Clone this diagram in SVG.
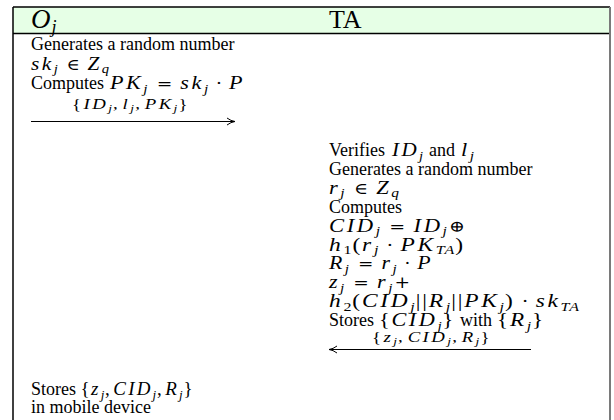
<svg xmlns="http://www.w3.org/2000/svg" width="614" height="420" viewBox="0 0 614 420">
<style>
text{font-family:"Liberation Serif","Times New Roman",serif;font-size:18px;fill:#000}
.m{font-style:italic;font-size:19px;letter-spacing:2.2px}
.s{font-style:italic;font-size:13px;letter-spacing:0.8px}
.n{font-size:13px;letter-spacing:0.8px}
.o{font-family:"DejaVu Serif","DejaVu Sans",serif;font-size:16px}
.p{font-size:19px;letter-spacing:1.5px}
.lb{font-size:15.5px;font-style:italic;letter-spacing:2px}
.ls{font-size:11px;font-style:italic;letter-spacing:1px}
.lp{font-size:15.5px;font-style:normal;letter-spacing:2px}
.h{font-size:26px}
.ar{stroke:#000;stroke-width:1;fill:none}
</style>
<defs>
<marker id="ah" viewBox="0 0 10 10" refX="9" refY="5" markerWidth="10" markerHeight="10" markerUnits="userSpaceOnUse" orient="auto-start-reverse">
<path d="M1,1.5 Q5,4.5 9,5 Q5,5.5 1,8.5" fill="none" stroke="#000" stroke-width="1"/>
</marker>
</defs>
<rect x="0" y="0" width="614" height="420" fill="#fff"/>
<g id="frame">
<rect x="13" y="7" width="597" height="27" fill="#e6ffe6"/>
<line x1="13" y1="7" x2="610" y2="7" stroke="#000" stroke-width="1.5"/>
<line x1="13" y1="33.5" x2="610" y2="33.5" stroke="#000" stroke-width="1.5"/>
<line x1="13" y1="7" x2="13" y2="420" stroke="#000" stroke-width="1.5"/>
<line x1="610" y1="7" x2="610" y2="420" stroke="#7a7a7a" stroke-width="2"/>
</g>
<g id="oj">
<text x="31" y="27.5" class="h"><tspan font-style="italic" font-size="27px">O</tspan><tspan font-style="italic" font-size="18px" dx="1" dy="5">j</tspan></text>
<text x="31" y="50">Generates a random number</text>
<text x="31" y="69.5" textLength="79" lengthAdjust="spacingAndGlyphs"><tspan class="m">sk</tspan><tspan class="s" dy="3.5">j</tspan><tspan class="o" dy="-3.5" dx="7">∈</tspan><tspan class="m" dx="7">Z</tspan><tspan class="s" dy="3.5">q</tspan></text>
<text x="31" y="89">Computes</text>
<text x="110" y="89" textLength="135" lengthAdjust="spacingAndGlyphs"><tspan class="m">PK</tspan><tspan class="s" dy="3.5">j</tspan><tspan class="o" dy="-3.5" dx="7">=</tspan><tspan class="m" dx="7">sk</tspan><tspan class="s" dy="3.5">j</tspan><tspan class="o" dy="-3.5" dx="6">·</tspan><tspan class="m" dx="6">P</tspan></text>
<text x="31" y="395">Stores</text>
<text x="80.5" y="395" textLength="113.5" lengthAdjust="spacingAndGlyphs"><tspan class="p">{</tspan><tspan class="m">z</tspan><tspan class="s" dy="3.5">j</tspan><tspan class="p" dy="-3.5">,</tspan><tspan class="m" dx="2">CID</tspan><tspan class="s" dy="3.5">j</tspan><tspan class="p" dy="-3.5">,</tspan><tspan class="m" dx="2">R</tspan><tspan class="s" dy="3.5">j</tspan><tspan class="p" dy="-3.5">}</tspan></text>
<text x="31" y="413">in mobile device</text>
</g>
<g id="ta">
<text x="329" y="27.5" class="h">TA</text>
<text x="329" y="156">Verifies</text>
<text x="392" y="156" textLength="32" lengthAdjust="spacingAndGlyphs"><tspan class="m">ID</tspan><tspan class="s" dy="3.5">j</tspan></text>
<text x="429" y="156">and</text>
<text x="461" y="156" textLength="14" lengthAdjust="spacingAndGlyphs"><tspan class="m">l</tspan><tspan class="s" dy="3.5">j</tspan></text>
<text x="329" y="174.9">Generates a random number</text>
<text x="329" y="193.8" textLength="71" lengthAdjust="spacingAndGlyphs"><tspan class="m">r</tspan><tspan class="s" dy="3.5">j</tspan><tspan class="o" dy="-3.5" dx="7">∈</tspan><tspan class="m" dx="7">Z</tspan><tspan class="s" dy="3.5">q</tspan></text>
<text x="329" y="212.7">Computes</text>
<text x="329" y="231.6" textLength="136" lengthAdjust="spacingAndGlyphs"><tspan class="m">CID</tspan><tspan class="s" dy="3.5">j</tspan><tspan class="o" dy="-3.5" dx="7">=</tspan><tspan class="m" dx="7">ID</tspan><tspan class="s" dy="3.5">j</tspan><tspan class="o" dy="-3.5" dx="1">⊕</tspan></text>
<text x="329" y="250.5" textLength="136" lengthAdjust="spacingAndGlyphs"><tspan class="m">h</tspan><tspan class="n" dy="3.5">1</tspan><tspan class="p" dy="-3.5">(</tspan><tspan class="m">r</tspan><tspan class="s" dy="3.5">j</tspan><tspan class="o" dy="-3.5" dx="6">·</tspan><tspan class="m" dx="6">PK</tspan><tspan class="s" dy="3.5">TA</tspan><tspan class="p" dy="-3.5">)</tspan></text>
<text x="329" y="269.4" textLength="104" lengthAdjust="spacingAndGlyphs"><tspan class="m">R</tspan><tspan class="s" dy="3.5">j</tspan><tspan class="o" dy="-3.5" dx="7">=</tspan><tspan class="m" dx="7">r</tspan><tspan class="s" dy="3.5">j</tspan><tspan class="o" dy="-3.5" dx="6">·</tspan><tspan class="m" dx="6">P</tspan></text>
<text x="329" y="288.3" textLength="81" lengthAdjust="spacingAndGlyphs"><tspan class="m">z</tspan><tspan class="s" dy="3.5">j</tspan><tspan class="o" dy="-3.5" dx="7">=</tspan><tspan class="m" dx="7">r</tspan><tspan class="s" dy="3.5">j</tspan><tspan class="o" dy="-3.5" dx="1">+</tspan></text>
<text x="329" y="307.2" textLength="251" lengthAdjust="spacingAndGlyphs"><tspan class="m">h</tspan><tspan class="n" dy="3.5">2</tspan><tspan class="p" dy="-3.5">(</tspan><tspan class="m">CID</tspan><tspan class="s" dy="3.5">j</tspan><tspan class="p" dy="-3.5">||</tspan><tspan class="m">R</tspan><tspan class="s" dy="3.5">j</tspan><tspan class="p" dy="-3.5">||</tspan><tspan class="m">PK</tspan><tspan class="s" dy="3.5">j</tspan><tspan class="p" dy="-3.5">)</tspan><tspan class="o" dx="6">·</tspan><tspan class="m" dx="6">sk</tspan><tspan class="s" dy="3.5">TA</tspan></text>
<text x="329" y="326.1">Stores</text>
<text x="379" y="326.1" textLength="76" lengthAdjust="spacingAndGlyphs"><tspan class="p">{</tspan><tspan class="m">CID</tspan><tspan class="s" dy="3.5">j</tspan><tspan class="p" dy="-3.5">}</tspan></text>
<text x="460" y="326.1">with</text>
<text x="497" y="326.1" textLength="48" lengthAdjust="spacingAndGlyphs"><tspan class="p">{</tspan><tspan class="m">R</tspan><tspan class="s" dy="3.5">j</tspan><tspan class="p" dy="-3.5">}</tspan></text>
</g>
<g id="connectors">
<line class="ar" x1="31" y1="121.5" x2="235" y2="121.5" marker-end="url(#ah)"/>
<text x="72" y="109" textLength="118" lengthAdjust="spacingAndGlyphs"><tspan class="lp">{</tspan><tspan class="lb">ID</tspan><tspan class="ls" dy="3">j</tspan><tspan class="lp" dy="-3">,</tspan><tspan class="lb" dx="2">l</tspan><tspan class="ls" dy="3">j</tspan><tspan class="lp" dy="-3">,</tspan><tspan class="lb" dx="2">PK</tspan><tspan class="ls" dy="3">j</tspan><tspan class="lp" dy="-3">}</tspan></text>
<line class="ar" x1="531" y1="349.5" x2="329" y2="349.5" marker-end="url(#ah)"/>
<text x="372" y="342" textLength="120" lengthAdjust="spacingAndGlyphs"><tspan class="lp">{</tspan><tspan class="lb">z</tspan><tspan class="ls" dy="3">j</tspan><tspan class="lp" dy="-3">,</tspan><tspan class="lb" dx="2">CID</tspan><tspan class="ls" dy="3">j</tspan><tspan class="lp" dy="-3">,</tspan><tspan class="lb" dx="2">R</tspan><tspan class="ls" dy="3">j</tspan><tspan class="lp" dy="-3">}</tspan></text>
</g>
</svg>
